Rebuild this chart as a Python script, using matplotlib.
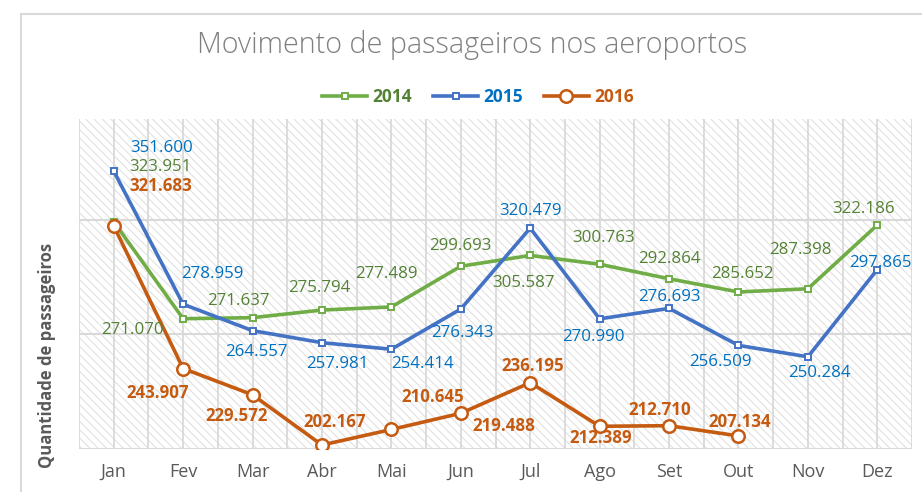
import matplotlib.pyplot as plt
from matplotlib.patches import Rectangle
from matplotlib.lines import Line2D

plt.rcParams['font.family'] = ['Open Sans', 'DejaVu Sans']
plt.rcParams['hatch.linewidth'] = 0.7

# dados (milhares de passageiros)
meses = ["Jan", "Fev", "Mar", "Abr", "Mai", "Jun", "Jul", "Ago", "Set", "Out", "Nov", "Dez"]
v2014 = [323.951, 271.070, 271.637, 275.794, 277.489, 299.693,
         305.587, 300.763, 292.864, 285.652, 287.398, 322.186]
v2015 = [351.600, 278.959, 264.557, 257.981, 254.414, 276.343,
         320.479, 270.990, 276.693, 256.509, 250.284, 297.865]
v2016 = [321.683, 243.907, 229.572, 202.167, 210.645, 219.488,
         236.195, 212.389, 212.710, 207.134]

# posicao dos rotulos (pixels, relativo ao ponto; y para baixo como no Excel)
off2014 = [(47, -55), (-51, 11), (-14, -17), (-3, -22), (-5, -33), (0, -20),
           (-7, 28), (4, -26), (0, -20), (4, -18), (-8, -39), (-14, -16)]
off2015 = [(48, -23), (29, -30), (4, 21), (15, 21), (31, 15), (2, 24),
           (0, -17), (-6, 18), (0, -11), (-18, 17), (12, 16), (3, -7)]
off2016 = [(47, -40), (-25, 24), (-16, 21), (13, -23), (41, -32), (43, 13),
           (3, -17), (1, 12), (-9, -16), (1, -14)]

fig = plt.figure(figsize=(9.22, 4.92), dpi=100)
ax = fig.add_axes([79 / 922, 1 - 449 / 492, 833 / 922, 330 / 492])

# fundo hachurado
ax.patch.set_alpha(0)
ax.add_patch(Rectangle((0, 0), 1, 1, transform=ax.transAxes, facecolor='white',
                       edgecolor='#dedede', hatch='\\\\\\\\', lw=0, zorder=0))

x = list(range(12))
grid_c = '#d9d9d9'
for gx in [i * 0.5 - 0.5 for i in range(25)]:
    ax.axvline(gx, color=grid_c, lw=1.3, zorder=1)
for gy in [200, 262.5, 325]:
    ax.axhline(gy, color=grid_c, lw=1.5, zorder=1)

series = [
    (v2014, '#70ad47', '#548235', 's', 5, 'normal', off2014, '2014'),
    (v2015, '#4472c4', '#0070c0', 's', 5, 'normal', off2015, '2015'),
    (v2016, '#c55a11', '#c55a11', 'o', 9, 'bold', off2016, '2016'),
]
handles = []
for vals, lc, tc, mk, ms, fw, offs, lab in series:
    xs = x[:len(vals)]
    h, = ax.plot(xs, vals, color=lc, lw=2.6, marker=mk, ms=ms, mfc='white',
                 mec=lc, mew=1.8 if mk == 'o' else 1.4, zorder=3, label=lab)
    handles.append(h)
    for xi, v, (dx, dy) in zip(xs, vals, offs):
        ax.annotate(f"{v:.3f}", (xi, v), xytext=(dx, -dy), textcoords='offset pixels',
                    ha='center', va='center', color=tc, fontsize=12.2, fontweight=fw,
                    zorder=4)

ax.set_xlim(-0.5, 11.5)
ax.set_ylim(200, 380)
ax.set_yticks([])
ax.set_xticks(x)
ax.set_xticklabels(meses, color='#595959', fontsize=13)
ax.tick_params(axis='x', length=0, pad=10)
for s in ax.spines.values():
    s.set_visible(False)

fig.text(472 / 922, 1 - 45 / 492, "Movimento de passageiros nos aeroportos",
         ha='center', va='center', fontsize=20.7, color='#808080', fontweight='light')
fig.text(47 / 922, 1 - 355 / 492, "Quantidade de passageiros", rotation=90,
         ha='center', va='center', fontsize=12, color='#595959', fontweight='bold')

leg = fig.legend(handles=handles, loc='center', bbox_to_anchor=(478 / 922, 1 - 97 / 492),
                 ncol=3, frameon=False, handlelength=2.6, columnspacing=1.2,
                 handletextpad=0.3, prop={'weight': 'bold', 'size': 12.5},
                 labelcolor=['#548235', '#0070c0', '#c55a11'])

# moldura do grafico
fig.add_artist(Line2D([21 / 922, 21 / 922], [0, 1 - 14 / 492], color='#d9d9d9', lw=1.5))
fig.add_artist(Line2D([21 / 922, 1], [1 - 14 / 492, 1 - 14 / 492], color='#d9d9d9', lw=1.5))

fig.savefig("out.png", dpi=100)
